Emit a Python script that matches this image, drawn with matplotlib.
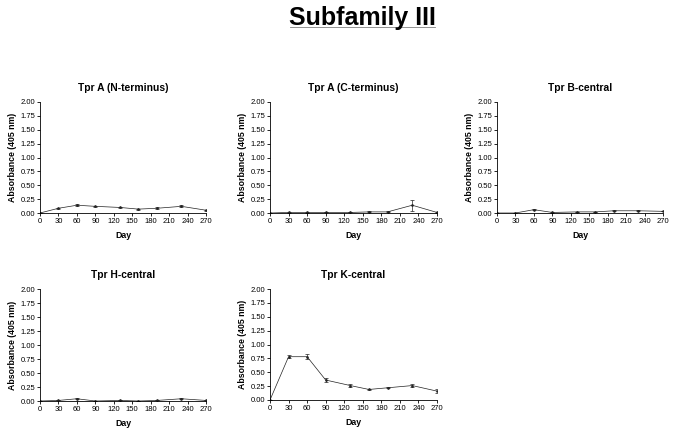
import numpy as np
import matplotlib
matplotlib.use('Agg')
import matplotlib.pyplot as plt

plt.rcParams['font.family'] = ['Liberation Sans', 'DejaVu Sans']

# Dados
dias = [0, 30, 60, 90, 130, 160, 190, 230, 270]
titulos = ['Tpr A (N-terminus)', 'Tpr A (C-terminus)', 'Tpr B-central',
           'Tpr H-central', 'Tpr K-central']
tpr_a_n = [0.0, 0.085, 0.14, 0.12, 0.10, 0.07, 0.085, 0.12, 0.05]
tpr_a_n_err = [0.0, 0.01, 0.02, 0.01, 0.01, 0.01, 0.02, 0.02, 0.01]
tpr_a_c = [0.0, 0.01, 0.01, 0.01, 0.01, 0.02, 0.02, 0.14, 0.01]
tpr_a_c_err = [0.0, 0.01, 0.01, 0.0, 0.0, 0.01, 0.01, 0.10, 0.01]
tpr_b = [0.0, 0.0, 0.06, 0.01, 0.02, 0.02, 0.04, 0.04, 0.03]
tpr_b_err = [0.0, 0.0, 0.01, 0.01, 0.0, 0.0, 0.01, 0.01, 0.0]
tpr_h = [0.0, 0.01, 0.04, 0.0, 0.01, 0.0, 0.01, 0.04, 0.01]
tpr_h_err = [0.0, 0.0, 0.01, 0.0, 0.0, 0.0, 0.0, 0.01, 0.0]
tpr_k = [0.0, 0.78, 0.78, 0.36, 0.26, 0.19, 0.22, 0.26, 0.16]
tpr_k_err = [0.0, 0.03, 0.04, 0.03, 0.03, 0.01, 0.01, 0.03, 0.03]

series = [(tpr_a_n, tpr_a_n_err), (tpr_a_c, tpr_a_c_err), (tpr_b, tpr_b_err),
          (tpr_h, tpr_h_err), (tpr_k, tpr_k_err)]

# posições dos eixos em pixels (x0, y0, x1, y1)
W, H = 674, 433
caixas = [(40, 102, 206, 213), (270, 102, 437, 213), (497, 102, 663, 213),
          (40, 289, 206, 401), (270, 289, 437, 400)]

fig = plt.figure(figsize=(W / 100, H / 100), dpi=100)

for (x0, y0, x1, y1), titulo, (vals, errs) in zip(caixas, titulos, series):
    ax = fig.add_axes([x0 / W, 1 - y1 / H, (x1 - x0) / W, (y1 - y0) / H])
    ax.errorbar(dias, vals, yerr=errs, color='#222222', lw=0.5, marker='.',
                ms=1.8, capsize=1.5, elinewidth=0.5, capthick=0.5)
    ax.set_xlim(0, 270)
    ax.set_ylim(0, 2.0)
    ax.set_xticks(np.arange(0, 271, 30))
    ax.set_yticks(np.arange(0, 2.01, 0.25))
    ax.set_yticklabels(['%.2f' % v for v in np.arange(0, 2.01, 0.25)])
    ax.spines['top'].set_visible(False)
    ax.spines['right'].set_visible(False)
    for s in ['left', 'bottom']:
        ax.spines[s].set_linewidth(0.6)
    ax.tick_params(labelsize=5.5, width=0.6, length=2, pad=1.5)
    ax.set_title(titulo, fontsize=7.4, fontweight='bold', pad=8)
    ax.set_xlabel('Day', fontsize=6.3, fontweight='bold', labelpad=4.5)
    ax.set_ylabel('Absorbance (405 nm)', fontsize=6.3, fontweight='bold', labelpad=2)

fig.text(362 / W, 1 - 18 / H, 'Subfamily III', fontsize=18, fontweight='bold',
         ha='center', va='center')
fig.add_artist(plt.Line2D([290 / W, 435 / W], [1 - 27 / H, 1 - 27 / H],
                          color='gray', lw=0.6, transform=fig.transFigure))

fig.savefig('out.png', dpi=100)
